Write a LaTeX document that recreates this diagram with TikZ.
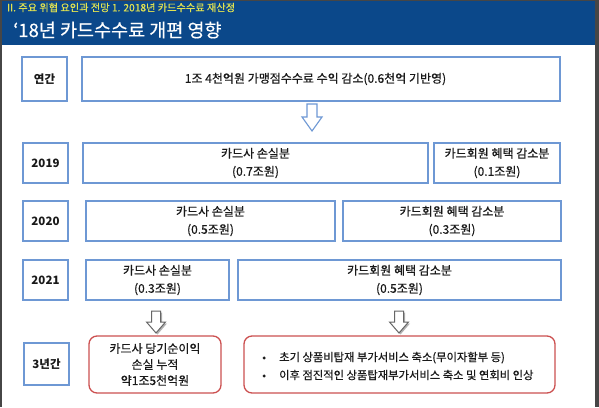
\documentclass[tikz,border=0pt]{standalone}
\usepackage{fontspec}
\setmainfont{Noto Sans CJK KR}
\newfontfamily\krm{Noto Sans CJK KR}[FakeBold=0.45]
\definecolor{hdrblue}{RGB}{11,72,138}
\definecolor{boxblue}{RGB}{110,152,212}
\definecolor{redline}{RGB}{204,80,80}
\definecolor{subyellow}{RGB}{226,226,80}
\definecolor{txt}{RGB}{25,25,25}
\definecolor{edge}{RGB}{70,70,70}
\tikzset{
  box/.style={draw=boxblue, line width=1.3pt, fill=white, align=center, inner sep=0pt,
    text=txt, font=\krm\fontsize{12}{18}\selectfont},
  lab/.style={box, font=\bfseries\fontsize{11.5}{14}\selectfont},
  redbox/.style={draw=redline, line width=1.3pt, fill=white, rounded corners=8pt,
    inner sep=0pt, text=txt},
  dnarrow/.pic={\path[pic actions] (-4.5,0) -- (4.5,0) -- (4.5,11) -- (9.5,11) -- (0,22) -- (-9.5,11) -- (-4.5,11) -- cycle;},
  bigarrow/.pic={\path[pic actions] (-5,0) -- (5,0) -- (5,13) -- (10,13) -- (0,27) -- (-10,13) -- (-5,13) -- cycle;}
}
\begin{document}
\begin{tikzpicture}[x=1pt,y=-1pt]
\useasboundingbox (0,0) rectangle (599,407);
\fill[white] (0,0) rectangle (599,407);
% frame strips
\fill[edge] (0,0) rectangle (2,407);
\fill[edge] (595,0) rectangle (599,407);
\fill[edge] (0,0) rectangle (599,1);
% header
\fill[hdrblue] (2,1) rectangle (595,45);
\node[anchor=west, inner sep=0pt, text=subyellow, font=\krm\fontsize{10.2}{11}\selectfont] (sub) at (7,7.5) {II. 주요 위협 요인과 전망 1. 2018년 카드수수료 재산정};
\node[anchor=west, inner sep=0pt, text=white, font=\krm\fontsize{18.5}{20}\selectfont] (title) at (13,30) {‘18년 카드수수료 개편 영향};
% row 1
\node[lab, minimum width=45pt, minimum height=44pt] (l1) at (44.5,79) {연간};
\node[box, minimum width=478pt, minimum height=44pt] (m1) at (321,79) {};
\node[inner sep=0pt, text=txt, font=\krm\fontsize{12}{18}\selectfont] (m1t) at (315.5,79) {1조 4천억원 가맹점수수료 수익 감소(0.6천억 기반영)};
\pic[draw=boxblue, fill=white, line width=1.1pt] (a1) at (312,104) {bigarrow};
% 2019
\node[lab, minimum width=45pt, minimum height=40pt] (l2) at (45.5,163) {2019};
\node[box, minimum width=345pt, minimum height=40pt] (c2) at (255.5,163) {카드사 손실분\\(0.7조원)};
\node[box, minimum width=126pt, minimum height=40pt] (b2) at (497,163) {카드회원 혜택 감소분\\(0.1조원)};
% 2020
\node[lab, minimum width=45pt, minimum height=40pt] (l3) at (45.5,221) {2020};
\node[box, minimum width=249pt, minimum height=40pt] (c3) at (210.5,221) {카드사 손실분\\(0.5조원)};
\node[box, minimum width=218pt, minimum height=40pt] (b3) at (452,221) {카드회원 혜택 감소분\\(0.3조원)};
% 2021
\node[lab, minimum width=45pt, minimum height=40pt] (l4) at (45.5,280) {2021};
\node[box, minimum width=143pt, minimum height=40pt] (c4) at (157.5,280) {카드사 손실분\\(0.3조원)};
\node[box, minimum width=323pt, minimum height=40pt] (b4) at (399.5,280) {카드회원 혜택 감소분\\(0.5조원)};
% arrows
\pic[fill=black!30, draw=none] at (157.5,312.5) {dnarrow};
\pic[fill=black!30, draw=none] at (400.5,312.5) {dnarrow};
\pic[draw=black!60, fill=white, line width=1pt] (a2) at (156,311) {dnarrow};
\pic[draw=black!60, fill=white, line width=1pt] (a3) at (399,311) {dnarrow};
% 3 years
\node[lab, minimum width=45pt, minimum height=42pt] (l5) at (46.5,364) {3년간};
\node[redbox, minimum width=132pt, minimum height=57pt, align=center, font=\krm\fontsize{12}{16}\selectfont] (r1) at (155,364.5) {카드사 당기순이익\\손실 누적\\약1조5천억원};
\node[redbox, minimum width=311pt, minimum height=57pt] (r2) at (399.5,364.5) {};
\node[anchor=west, inner sep=0pt, align=left, text=txt, font=\krm\fontsize{11.3}{18}\selectfont] (r2t) at (262,366) {\makebox[17pt][l]{•}초기 상품비탑재 부가서비스 축소(무이자할부 등)\\\makebox[17pt][l]{•}이후 점진적인 상품탑재부가서비스 축소 및 연회비 인상};
\end{tikzpicture}
\end{document}
